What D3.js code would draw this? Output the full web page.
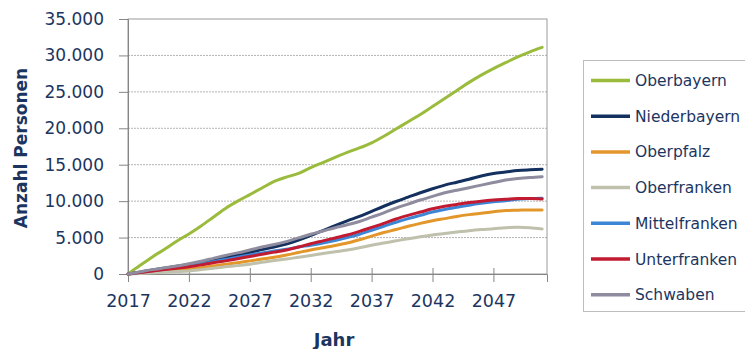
<!DOCTYPE html>
<html><head><meta charset="utf-8">
<script src="https://cdn.jsdelivr.net/npm/d3@7"></script>
<style>body{margin:0;background:#fff}svg{display:block}</style>
</head><body><div id="chart"></div>
<script>
const years = d3.range(2017, 2052);
const regions = ["Oberbayern","Niederbayern","Oberpfalz","Oberfranken","Mittelfranken","Unterfranken","Schwaben"];
const colors = ["#9bbb3c","#14305e","#e3962a","#bfc1ac","#3d86d6","#c21a30","#8e8c9e"];
const oberbayern   = [0,1200,2350,3400,4500,5500,6600,7800,9000,10000,10900,11800,12700,13300,13800,14600,15300,16000,16700,17300,18000,18900,19900,20900,21900,23000,24100,25200,26300,27300,28200,29000,29800,30500,31100];
const niederbayern = [0,250,550,800,1050,1300,1600,1900,2250,2600,2950,3350,3700,4100,4650,5300,5950,6650,7300,7900,8600,9300,9950,10550,11150,11700,12200,12600,13000,13450,13800,14000,14200,14300,14370];
const oberpfalz    = [0,120,250,380,520,650,850,1100,1350,1550,1800,2050,2300,2600,2950,3300,3600,3900,4250,4700,5200,5700,6100,6550,6950,7300,7600,7900,8150,8350,8550,8700,8750,8800,8780];
const oberfranken  = [0,80,170,260,330,420,600,800,1000,1150,1350,1600,1850,2050,2300,2550,2800,3050,3300,3600,3950,4250,4550,4850,5100,5350,5550,5750,5950,6100,6200,6350,6400,6350,6180];
const mittelfranken= [0,220,450,680,900,1150,1400,1700,2000,2300,2600,2900,3150,3400,3700,3950,4250,4600,5000,5450,6000,6550,7100,7600,8050,8500,8850,9150,9450,9700,9900,10050,10250,10350,10400];
const unterfranken = [0,200,400,600,800,1000,1250,1550,1800,2100,2400,2700,3000,3300,3700,4150,4550,4950,5350,5850,6400,6950,7550,8050,8500,8950,9300,9550,9800,10000,10150,10250,10350,10350,10290];
const schwaben     = [0,300,600,850,1100,1400,1750,2150,2550,2900,3300,3700,4050,4450,4950,5450,5900,6350,6750,7200,7800,8400,9050,9600,10150,10650,11150,11500,11850,12200,12550,12900,13100,13250,13360];
const seriesValues = [oberbayern,niederbayern,oberpfalz,oberfranken,mittelfranken,unterfranken,schwaben];
const xTicks = [2017,2022,2027,2032,2037,2042,2047];
const yTicks = [0,5000,10000,15000,20000,25000,30000,35000];

(function () {
const W = 745, H = 349;
const pL = 128, pR = 547, pT = 19, pB = 274;
const textColor = "#1c3560";
const font = "'DejaVu Sans', sans-serif";

const svg = d3.select("#chart").append("svg").attr("width", W).attr("height", H);
const x = d3.scaleLinear().domain([2017, 2051.4]).range([pL, pR]);
const y = d3.scaleLinear().domain([0, 35000]).range([pB, pT]);
const de = d3.formatLocale({decimal: ",", thousands: ".", grouping: [3], currency: ["", "€"]});
const fmt = de.format(",");

svg.append("g").selectAll("line").data(yTicks.filter(d => d > 0 && d < 35000)).join("line")
  .attr("x1", pL).attr("x2", pR).attr("y1", d => y(d)).attr("y2", d => y(d))
  .attr("stroke", "#b4b4b4").attr("stroke-width", 1).attr("stroke-dasharray", "2,1");

svg.append("rect").attr("x", pL).attr("y", pT).attr("width", pR - pL).attr("height", pB - pT)
  .attr("fill", "none").attr("stroke", "#9a9a9a").attr("stroke-width", 1);

const yAxis = svg.append("g").attr("transform", `translate(${pL},0)`)
  .call(d3.axisLeft(y).tickValues(yTicks).tickFormat(d => fmt(d)).tickSize(9).tickPadding(15));
yAxis.select(".domain").attr("stroke", "#868686");
yAxis.selectAll(".tick line").attr("stroke", "#868686");
yAxis.selectAll("text").attr("fill", textColor).style("font-family", font).style("font-size", "17px");

const xAxis = svg.append("g").attr("transform", `translate(0,${pB})`)
  .call(d3.axisBottom(x).tickValues(xTicks).tickFormat(d => String(d)).tickSize(8).tickPadding(13));
xAxis.select(".domain").attr("stroke", "#868686");
xAxis.selectAll(".tick line").attr("stroke", "#868686").attr("y1", -6);
xAxis.selectAll("text").attr("fill", textColor).style("font-family", font).style("font-size", "17.5px");

const line = d3.line().x((d, i) => x(years[i])).y(d => y(d)).curve(d3.curveMonotoneX);
svg.append("g").selectAll("path").data(seriesValues).join("path")
  .attr("d", d => line(d)).attr("fill", "none")
  .attr("stroke", (d, i) => colors[i]).attr("stroke-width", 3)
  .attr("stroke-linejoin", "round").attr("stroke-linecap", "round");

svg.append("text").attr("x", 334).attr("y", 346).attr("text-anchor", "middle")
  .attr("fill", textColor).style("font-family", font).style("font-size", "18px").style("font-weight", "bold")
  .text("Jahr");
svg.append("text").attr("transform", "translate(27,148) rotate(-90)").attr("text-anchor", "middle")
  .attr("fill", textColor).style("font-family", font).style("font-size", "17px").style("font-weight", "bold")
  .text("Anzahl Personen");

const lg = svg.append("g");
lg.append("rect").attr("x", 583.5).attr("y", 60.5).attr("width", 180).attr("height", 251)
  .attr("fill", "#fff").attr("stroke", "#bdbdbd");
const items = lg.selectAll("g.item").data(regions).join("g").attr("class", "item")
  .attr("transform", (d, i) => `translate(0,${80.5 + i * 35.7})`);
items.append("line").attr("x1", 591).attr("x2", 630).attr("y1", 0).attr("y2", 0)
  .attr("stroke", (d, i) => colors[i]).attr("stroke-width", 3.5);
items.append("text").attr("x", 635).attr("y", 0).attr("dy", "0.36em")
  .attr("fill", textColor).style("font-family", font).style("font-size", "15.5px")
  .text(d => d);
})();
</script></body></html>
